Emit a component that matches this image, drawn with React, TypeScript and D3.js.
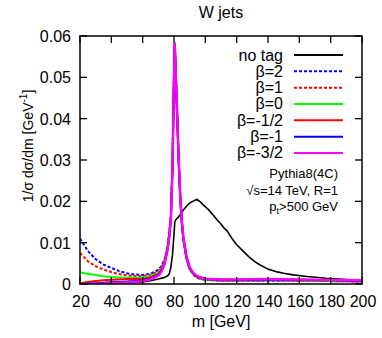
import React from "react";
import * as d3 from "d3";

const massGrid = [20, 25, 30, 35, 40, 45, 50, 55, 60, 65, 70, 72, 74, 76, 77, 78, 79, 80, 80.5, 81, 82, 83, 84, 85, 86, 88, 90, 93, 96, 100, 110, 120, 140, 160, 180, 200];

const beta2 = [0.0110, 0.0080, 0.0060, 0.0047, 0.0039, 0.0031, 0.0026, 0.0023, 0.0022, 0.0025, 0.0034, 0.0044, 0.0060, 0.0095, 0.0125, 0.0165, 0.0285, 0.0500, 0.0582, 0.0520, 0.0405, 0.0295, 0.0205, 0.0145, 0.0105, 0.0060, 0.0035, 0.0020, 0.0013, 0.0010, 0.0008, 0.0008, 0.0008, 0.0008, 0.0007, 0.0006];
const beta1 = [0.0075, 0.0055, 0.0043, 0.0035, 0.0029, 0.0024, 0.0021, 0.0019, 0.0019, 0.0022, 0.0031, 0.0041, 0.0058, 0.0093, 0.0123, 0.0163, 0.0283, 0.0500, 0.0580, 0.0520, 0.0406, 0.0296, 0.0206, 0.0146, 0.0106, 0.0061, 0.0036, 0.0021, 0.0014, 0.0010, 0.0008, 0.0008, 0.0009, 0.0008, 0.0007, 0.0006];
const beta0 = [0.0028, 0.0025, 0.0022, 0.0019, 0.0017, 0.0016, 0.0015, 0.0015, 0.0016, 0.0019, 0.0027, 0.0037, 0.0055, 0.0090, 0.0120, 0.0160, 0.0280, 0.0500, 0.0580, 0.0520, 0.0408, 0.0298, 0.0208, 0.0148, 0.0108, 0.0063, 0.0037, 0.0022, 0.0015, 0.0011, 0.0009, 0.0009, 0.0009, 0.0009, 0.0008, 0.0007];
const betaM12 = [0.0002, 0.0005, 0.0007, 0.0009, 0.0010, 0.0011, 0.0012, 0.0012, 0.0013, 0.0016, 0.0024, 0.0034, 0.0052, 0.0088, 0.0118, 0.0158, 0.0278, 0.0500, 0.0580, 0.0522, 0.0410, 0.0300, 0.0210, 0.0150, 0.0110, 0.0064, 0.0038, 0.0022, 0.0015, 0.0012, 0.0010, 0.0010, 0.0010, 0.0010, 0.0009, 0.0007];
const betaM1 = [0.0000, 0.0001, 0.0002, 0.0003, 0.0004, 0.0005, 0.0006, 0.0007, 0.0009, 0.0013, 0.0022, 0.0032, 0.0050, 0.0086, 0.0116, 0.0156, 0.0276, 0.0500, 0.0582, 0.0524, 0.0412, 0.0302, 0.0212, 0.0152, 0.0111, 0.0065, 0.0039, 0.0023, 0.0016, 0.0012, 0.0010, 0.0010, 0.0011, 0.0010, 0.0009, 0.0008];
const betaM32 = [0.0000, 0.0000, 0.0001, 0.0001, 0.0002, 0.0003, 0.0004, 0.0005, 0.0007, 0.0011, 0.0020, 0.0030, 0.0048, 0.0084, 0.0114, 0.0154, 0.0274, 0.0500, 0.0580, 0.0526, 0.0414, 0.0304, 0.0214, 0.0154, 0.0113, 0.0067, 0.0040, 0.0024, 0.0017, 0.0013, 0.0011, 0.0011, 0.0012, 0.0011, 0.0010, 0.0009];

const noTagMass = [20, 40, 60, 65, 70, 74, 76, 77, 78, 79, 80, 80.5, 81, 83, 86, 88, 90, 92, 94.5, 97, 99, 102, 105, 108, 110, 112, 114, 117, 120, 124, 128, 132, 135, 140, 145, 150, 156, 165, 177, 190, 200];
const noTag = [0.0000, 0.0001, 0.0005, 0.0008, 0.0012, 0.0016, 0.0020, 0.0025, 0.0040, 0.0070, 0.0120, 0.0150, 0.0155, 0.0163, 0.0179, 0.0188, 0.0196, 0.0200, 0.0205, 0.0198, 0.0190, 0.0180, 0.0167, 0.0153, 0.0145, 0.0135, 0.0128, 0.0110, 0.0095, 0.0080, 0.0065, 0.0053, 0.0046, 0.0036, 0.0030, 0.0026, 0.0022, 0.0018, 0.0014, 0.0011, 0.0008];

const xTicks = [20, 40, 60, 80, 100, 120, 140, 160, 180, 200];
const yTicks = [0, 0.01, 0.02, 0.03, 0.04, 0.05, 0.06];
const yTickLabels = ["0", "0.01", "0.02", "0.03", "0.04", "0.05", "0.06"];

const legendLabels = ["no tag", "β=2", "β=1", "β=0", "β=-1/2", "β=-1", "β=-3/2"];
const legendColors = ["#000000", "#0000ff", "#ff0000", "#00ff00", "#ff0000", "#0000ff", "#ff00ff"];
const legendDash = ["", "3,2", "3,2", "", "", "", ""];

export default function App() {
  const W = 382, H = 338;
  const L = 80, R = 362, T = 36, B = 284;
  const x = d3.scaleLinear().domain([20, 200]).range([L, R]);
  const y = d3.scaleLinear().domain([0, 0.06]).range([B, T]);
  const line = d3.line<[number, number]>().x(d => x(d[0])).y(d => y(d[1]));

  const series = [
    { m: noTagMass, v: noTag, i: 0, w: 1.6 },
    { m: massGrid, v: beta2, i: 1, w: 2 },
    { m: massGrid, v: beta1, i: 2, w: 2 },
    { m: massGrid, v: beta0, i: 3, w: 2 },
    { m: massGrid, v: betaM12, i: 4, w: 2 },
    { m: massGrid, v: betaM1, i: 5, w: 2 },
    { m: massGrid, v: betaM32, i: 6, w: 2.4 },
  ];

  const font = "'Liberation Sans', Arial, Helvetica, sans-serif";
  const tickLen = 7;

  return (
    <svg width={W} height={H} style={{ position: "absolute", left: 0, top: 0, background: "#fff" }} fontFamily={font}>
      <defs>
        <clipPath id="plotclip">
          <rect x={L} y={T} width={R - L} height={B - T} />
        </clipPath>
      </defs>
      <text x={(L + R) / 2} y={18} textAnchor="middle" fontSize={16}>W jets</text>

      {/* curves */}
      <g clipPath="url(#plotclip)">
        {series.map(s => (
          <path key={s.i}
            d={line(s.m.map((mm, k) => [mm, s.v[k]] as [number, number])) || ""}
            fill="none" stroke={legendColors[s.i]} strokeWidth={s.w}
            strokeDasharray={legendDash[s.i] || undefined} strokeLinejoin="round" />
        ))}
      </g>

      {/* ticks */}
      {xTicks.map(t => (
        <g key={"xt" + t}>
          <line x1={x(t)} x2={x(t)} y1={B} y2={B - tickLen} stroke="#000" strokeWidth={1.3} />
          <line x1={x(t)} x2={x(t)} y1={T} y2={T + tickLen} stroke="#000" strokeWidth={1.3} />
          <text x={x(t) + 1} y={307} textAnchor="middle" fontSize={16}>{t}</text>
        </g>
      ))}
      {yTicks.map((t, k) => (
        <g key={"yt" + k}>
          <line x1={L} x2={L + tickLen} y1={y(t)} y2={y(t)} stroke="#000" strokeWidth={1.3} />
          <line x1={R} x2={R - tickLen} y1={y(t)} y2={y(t)} stroke="#000" strokeWidth={1.3} />
          <text x={71} y={y(t) + 6} textAnchor="end" fontSize={16}>{yTickLabels[k]}</text>
        </g>
      ))}

      <rect x={L} y={T} width={R - L} height={B - T} fill="none" stroke="#000" strokeWidth={1.5} />

      {/* legend */}
      {legendLabels.map((lab, k) => {
        const cy = 55 + k * 16.33;
        return (
          <g key={"lg" + k}>
            <text x={283} y={cy + 5.5} textAnchor="end" fontSize={16}>{lab}</text>
            <line x1={294} x2={343} y1={cy} y2={cy} stroke={legendColors[k]} strokeWidth={2}
              strokeDasharray={legendDash[k] || undefined} />
          </g>
        );
      })}

      {/* annotation */}
      <text x={338} y={178} textAnchor="end" fontSize={13}>Pythia8(4C)</text>
      <text x={338} y={195} textAnchor="end" fontSize={13}>√s=14 TeV, R=1</text>
      <text x={338} y={211} textAnchor="end" fontSize={13}>p<tspan fontSize={9} dy={3}>t</tspan><tspan dy={-3}>&gt;500 GeV</tspan></text>

      {/* axis labels */}
      <text x={(L + R) / 2} y={327} textAnchor="middle" fontSize={16}>m [GeV]</text>
      <text transform="translate(33,146) rotate(-90)" textAnchor="middle" fontSize={14}>
        1/σ dσ/dm [GeV<tspan fontSize={10} dy={-6}>-1</tspan><tspan dy={6}>]</tspan>
      </text>
    </svg>
  );
}
